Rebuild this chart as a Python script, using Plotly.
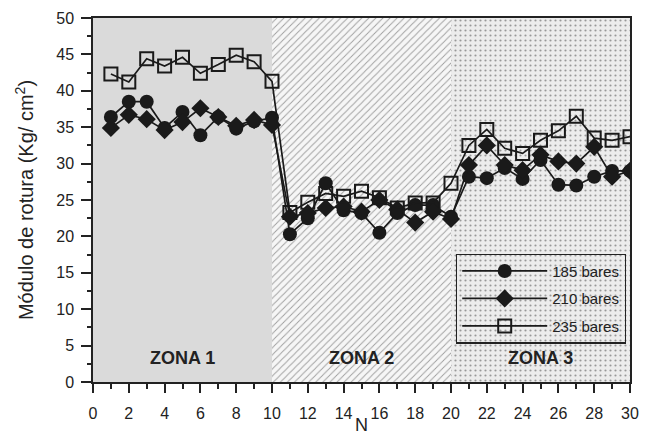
import plotly.graph_objects as go

N = list(range(1, 31))
bares_185 = [36.4, 38.5, 38.5, 34.9, 37.1, 33.9, 36.4, 34.8, 35.8, 36.3,
             20.3, 22.5, 27.3, 23.6, 23.2, 20.5, 23.2, 24.3, 24.3, 22.7,
             28.2, 28.0, 29.4, 27.9, 30.5, 27.1, 27.0, 28.2, 29.0, 29.0]
bares_210 = [34.9, 36.7, 36.1, 34.6, 35.7, 37.6, 36.4, 35.2, 36.0, 35.3,
             22.7, 23.2, 23.9, 24.1, 23.4, 25.0, 23.7, 21.9, 23.4, 22.4,
             29.8, 32.5, 29.8, 29.1, 31.2, 30.3, 30.0, 32.3, 28.2, 29.0]
bares_235 = [42.3, 41.2, 44.4, 43.4, 44.6, 42.4, 43.6, 44.9, 44.0, 41.3,
             23.3, 24.7, 25.9, 25.5, 26.2, 25.3, 23.9, 24.6, 24.6, 27.3,
             32.5, 34.7, 32.1, 31.4, 33.2, 34.5, 36.5, 33.5, 33.2, 33.7]

zone_centers = [5, 15, 25]
zone_labels = ["ZONA 1", "ZONA 2", "ZONA 3"]
zone_fill = ["#dadada", "#f6f6f6", "#ececec"]
zone_pattern = ["", "/", "."]
zone_fg = ["#dadada", "#e4e4e4", "#dcdcdc"]
zone_solidity = [0.2, 0.18, 0.15]

fig = go.Figure()

fig.add_trace(go.Bar(
    x=zone_centers, y=[50, 50, 50], width=[10, 10, 10],
    marker=dict(color=zone_fill, line=dict(width=0),
                pattern=dict(shape=zone_pattern, fgcolor=zone_fg,
                             bgcolor=zone_fill, size=5, solidity=zone_solidity)),
    showlegend=False, hoverinfo="skip"))

line_col = "#1a1a1a"
fig.add_trace(go.Scatter(
    x=N, y=bares_185, mode="lines+markers", name="185 bares", legendgroup="a",
    line=dict(color=line_col, width=1.7),
    marker=dict(symbol="circle", size=14, color=line_col)))
fig.add_trace(go.Scatter(
    x=N, y=bares_210, mode="lines+markers", name="210 bares", legendgroup="b",
    line=dict(color=line_col, width=1.7),
    marker=dict(symbol="diamond", size=14, color=line_col)))
fig.add_trace(go.Scatter(
    x=N, y=bares_235, mode="lines+markers", name="235 bares", legendgroup="c",
    line=dict(color=line_col, width=1.7),
    marker=dict(symbol="square-open", size=13, color=line_col,
                line=dict(width=2))))

for xc, lab in zip(zone_centers, zone_labels):
    fig.add_annotation(x=xc, y=3.3, text="<b>" + lab + "</b>", showarrow=False,
                       font=dict(size=18, color="#222222",
                                 family="Liberation Sans, Arial, sans-serif"))

fig.add_annotation(x=0.5, y=-0.149, xref="paper", yref="paper", text="N",
                   showarrow=False, yanchor="bottom", borderpad=0,
                   font=dict(size=18, color="#222222"))

fig.update_layout(
    width=660, height=437,
    margin=dict(l=93, r=30, t=18, b=55, autoexpand=False),
    paper_bgcolor="white", plot_bgcolor="white",
    font=dict(family="Liberation Sans, Arial, sans-serif", size=16, color="#222222"),
    bargap=0,
    legend=dict(x=0.676, y=0.353, xanchor="left", yanchor="top",
                bgcolor="rgba(0,0,0,0)", bordercolor="#222222", borderwidth=1.2,
                font=dict(size=15), tracegroupgap=5, itemwidth=85),
    xaxis=dict(range=[0, 30], tickmode="linear", tick0=0, dtick=2,
               ticks="outside", ticklen=9, tickwidth=1.5, tickcolor="#222222",
               minor=dict(ticks="outside", ticklen=5, dtick=1, tickcolor="#222222"),
               showline=True, linecolor="#222222", linewidth=1.5, mirror=True,
               showgrid=False, zeroline=False, automargin=False,
               ticklabelstandoff=7,
               tickfont=dict(size=16)),
    yaxis=dict(range=[0, 50], tickmode="linear", tick0=0, dtick=5,
               ticks="outside", ticklen=10, tickwidth=1.5, tickcolor="#222222",
               minor=dict(ticks="outside", ticklen=4, dtick=2.5, tickcolor="#222222"),
               showline=True, linecolor="#222222", linewidth=1.5, mirror=True,
               showgrid=False, zeroline=False, automargin=False,
               ticklabelstandoff=4,
               title=dict(text="Módulo de rotura (Kg/ cm<sup>2</sup>)", standoff=17,
                          font=dict(size=20)),
               tickfont=dict(size=16)),
)

fig.write_html("out.html", config={"displayModeBar": False},
               post_script="document.body.style.margin='0';")
